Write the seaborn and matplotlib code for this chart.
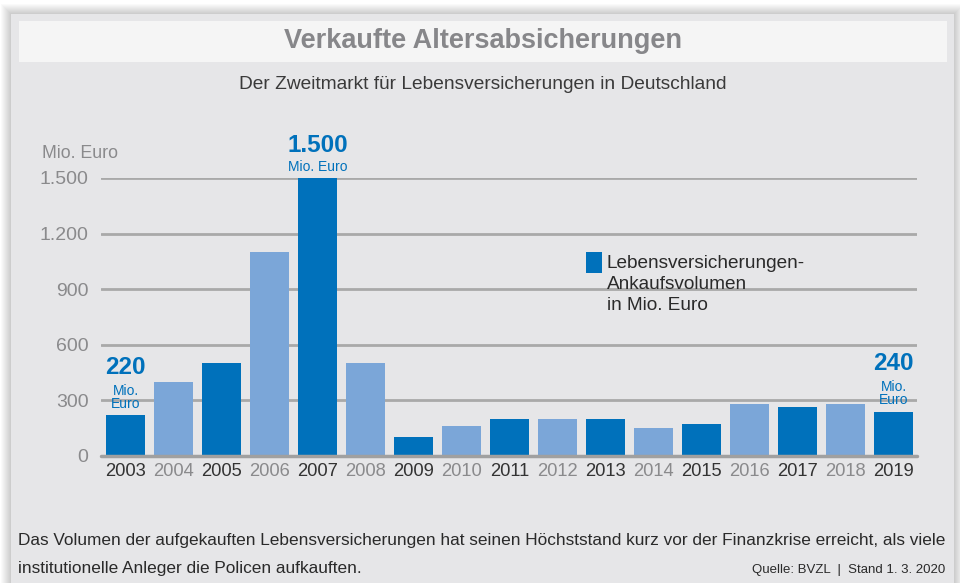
import matplotlib
matplotlib.use("Agg")
import matplotlib.pyplot as plt
from matplotlib.patches import Rectangle
import seaborn as sns
import pandas as pd

# ── Data ──────────────────────────────────────────────────────────────────────
years = [str(y) for y in range(2003, 2020)]
volume = [220, 400, 500, 1100, 1500, 500, 100, 160, 200, 200, 200, 150, 175, 280, 265, 280, 240]
yticks = [0, 300, 600, 900, 1200, 1500]
ytick_labels = ["0", "300", "600", "900", "1.200", "1.500"]
highlights = {"2003": ("220", "Mio.\nEuro"), "2007": ("1.500", "Mio. Euro"), "2019": ("240", "Mio.\nEuro")}

DARK = "#0071bb"
LIGHT = "#7ba6d8"
GREY_TXT = "#8a8a8c"
DARK_TXT = "#333333"
FONT = ["Liberation Sans", "DejaVu Sans"]

W, H = 960, 583

def fx(x):
    return x / W

def fy(y):
    return 1 - y / H


sns.set_theme(style="white")
plt.rcParams["font.family"] = FONT

fig = plt.figure(figsize=(9.6, 5.83), dpi=100)
fig.patch.set_facecolor("white")

# ── Panel + soft shadow ───────────────────────────────────────────────────────
for d in range(10, 0, -1):
    fig.patches.append(Rectangle((fx(11 - d), fy(583)), fx(943 + 2 * d), fy(14 - d) - fy(583),
                                 transform=fig.transFigure, color="black", alpha=0.018, lw=0,
                                 zorder=0))
fig.patches.append(Rectangle((fx(11), fy(583)), fx(943), fy(14) - fy(583),
                             transform=fig.transFigure, color="#e6e6e8", lw=0, zorder=1))
fig.patches.append(Rectangle((fx(19), fy(62)), fx(928), fy(21) - fy(62),
                             transform=fig.transFigure, color="#f5f5f5", lw=0, zorder=2))

fig.text(fx(483), fy(41), "Verkaufte Altersabsicherungen", ha="center", va="center",
         fontsize=19.5, fontweight="bold", color="#87878a", zorder=5)
fig.text(fx(483), fy(84), "Der Zweitmarkt für Lebensversicherungen in Deutschland", ha="center",
         va="center", fontsize=13.8, color="#3a3a3a", zorder=5)

# ── Bars ──────────────────────────────────────────────────────────────────────
df = pd.DataFrame({"year": years, "volume": volume})
palette = {y: (DARK if i % 2 == 0 else LIGHT) for i, y in enumerate(years)}

ax = fig.add_axes([fx(101), fy(456), fx(917) - fx(101), fy(178) - fy(456)])
ax.set_facecolor("none")
ax.set_zorder(5)
sns.barplot(data=df, x="year", y="volume", hue="year", palette=palette, width=0.81,
            saturation=1, legend=False, ax=ax, zorder=3, linewidth=0, edgecolor="none")

ax.set_xlim(-0.51, 16.49)
ax.set_ylim(0, 1500)
ax.set_yticks(yticks)
ax.set_yticklabels(ytick_labels)
ax.yaxis.grid(True, color="#a9a9a9", lw=2, zorder=1)
ax.set_axisbelow(True)
for s in ax.spines.values():
    s.set_visible(False)
ax.axhline(0, color="#a0a0a0", lw=2.5, zorder=4, clip_on=False)
ax.set_xlabel("")
ax.set_ylabel("")
ax.tick_params(axis="y", length=0, pad=9, labelsize=14, labelcolor=GREY_TXT)
ax.tick_params(axis="x", length=0, pad=5, labelsize=13.2)
for i, lab in enumerate(ax.get_xticklabels()):
    lab.set_color(DARK_TXT if i % 2 == 0 else GREY_TXT)

fig.text(fx(42), fy(153), "Mio. Euro", ha="left", va="center", fontsize=12.8, color=GREY_TXT)

# ── Highlight labels ──────────────────────────────────────────────────────────
for i, y in enumerate(years):
    if y not in highlights:
        continue
    num, unit = highlights[y]
    two = "\n" in unit
    ax.annotate(unit, (i, volume[i]), xytext=(0, 3), textcoords="offset points",
                ha="center", va="bottom", fontsize=10, color=DARK, linespacing=0.95)
    ax.annotate(num, (i, volume[i]), xytext=(0, 26 if two else 15), textcoords="offset points",
                ha="center", va="bottom", fontsize=17.5, fontweight="bold", color=DARK)

# ── Legend ────────────────────────────────────────────────────────────────────
fig.patches.append(Rectangle((fx(586), fy(273)), fx(16), fy(252) - fy(273),
                             transform=fig.transFigure, color=DARK, lw=0, zorder=6))
fig.text(fx(607), fy(255), "Lebensversicherungen-\nAnkaufsvolumen\nin Mio. Euro", ha="left",
         va="top", fontsize=13.7, color="#2a2a2a", linespacing=1.3, zorder=6)

# ── Footer ────────────────────────────────────────────────────────────────────
fig.text(fx(18), fy(541), "Das Volumen der aufgekauften Lebensversicherungen hat seinen Höchststand "
         "kurz vor der Finanzkrise erreicht, als viele", ha="left", va="center", fontsize=12.4,
         color="#2a2a2a")
fig.text(fx(18), fy(568), "institutionelle Anleger die Policen aufkauften.", ha="left",
         va="center", fontsize=12.4, color="#2a2a2a")
fig.text(fx(945), fy(570), "Quelle: BVZL  |  Stand 1. 3. 2020", ha="right", va="center",
         fontsize=9.5, color="#2a2a2a")

fig.savefig("out.png", dpi=100)
